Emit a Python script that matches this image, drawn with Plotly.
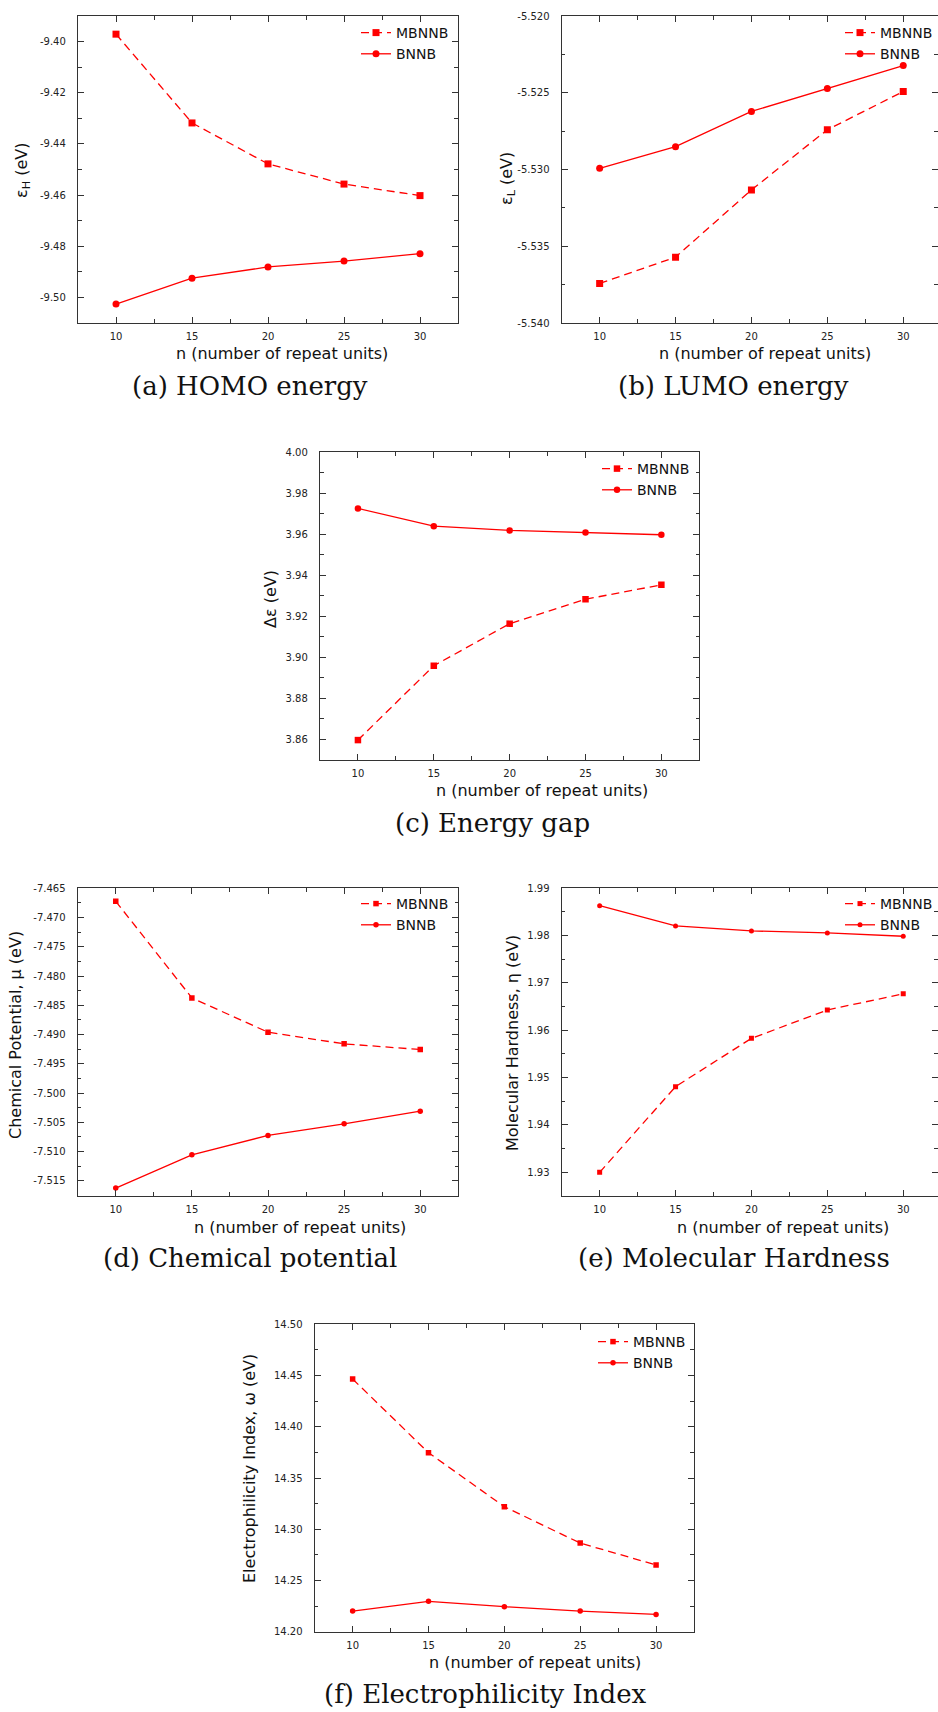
import plotly.graph_objects as go

W, H = 938, 1712

n_units = [10, 15, 20, 25, 30]

homo_mbnnb = [-9.3971, -9.4318, -9.4478, -9.4557, -9.4602]
homo_bnnb = [-9.5026, -9.4925, -9.4881, -9.4858, -9.4829]

lumo_mbnnb = [-5.53742, -5.53571, -5.53133, -5.52741, -5.52492]
lumo_bnnb = [-5.52992, -5.52851, -5.52622, -5.52472, -5.52323]

gap_mbnnb = [3.8597, 3.8959, 3.9164, 3.9283, 3.9353]
gap_bnnb = [3.9725, 3.9639, 3.9618, 3.9608, 3.9597]

mu_mbnnb = [-7.46722, -7.48374, -7.48960, -7.49159, -7.49256]
mu_bnnb = [-7.51625, -7.51056, -7.50725, -7.50526, -7.50310]

eta_mbnnb = [1.9300, 1.9481, 1.9583, 1.9643, 1.9677]
eta_bnnb = [1.98634, 1.98205, 1.9810, 1.98057, 1.97987]

omega_mbnnb = [14.4466, 14.3747, 14.3220, 14.2865, 14.2651]
omega_bnnb = [14.2201, 14.2296, 14.2244, 14.2201, 14.2169]

x_ticks = [10, 15, 20, 25, 30]
homo_ticks = [-9.50, -9.48, -9.46, -9.44, -9.42, -9.40]
lumo_ticks = [-5.540, -5.535, -5.530, -5.525, -5.520]
gap_ticks = [3.86, 3.88, 3.90, 3.92, 3.94, 3.96, 3.98, 4.00]
mu_ticks = [-7.515, -7.510, -7.505, -7.500, -7.495, -7.490, -7.485, -7.480, -7.475, -7.470, -7.465]
eta_ticks = [1.93, 1.94, 1.95, 1.96, 1.97, 1.98, 1.99]
omega_ticks = [14.20, 14.25, 14.30, 14.35, 14.40, 14.45, 14.50]

series_names = ["MBNNB", "BNNB"]

panels = [
    dict(mb=homo_mbnnb, bn=homo_bnnb, ticks=homo_ticks, dec=2,
         yr=[-9.51, -9.39], minor=0.01, xr=[7.5, 32.5],
         ytitle="ε<sub>H</sub> (eV)", caption="(a) HOMO energy"),
    dict(mb=lumo_mbnnb, bn=lumo_bnnb, ticks=lumo_ticks, dec=3,
         yr=[-5.540, -5.520], minor=0.0025, xr=[7.5, 32.29],
         ytitle="ε<sub>L</sub> (eV)", caption="(b) LUMO energy"),
    dict(mb=gap_mbnnb, bn=gap_bnnb, ticks=gap_ticks, dec=2,
         yr=[3.85, 4.00], minor=0.01, xr=[7.5, 32.5],
         ytitle="Δε (eV)", caption="(c) Energy gap"),
    dict(mb=mu_mbnnb, bn=mu_bnnb, ticks=mu_ticks, dec=3,
         yr=[-7.5176, -7.465], minor=0.0025, xr=[7.5, 32.5],
         ytitle="Chemical Potential, μ (eV)", caption="(d) Chemical potential"),
    dict(mb=eta_mbnnb, bn=eta_bnnb, ticks=eta_ticks, dec=2,
         yr=[1.925, 1.99], minor=0.005, xr=[7.5, 32.29],
         ytitle="Molecular Hardness, η (eV)", caption="(e) Molecular Hardness"),
    dict(mb=omega_mbnnb, bn=omega_bnnb, ticks=omega_ticks, dec=2,
         yr=[14.20, 14.50], minor=0.025, xr=[7.5, 32.5],
         ytitle="Electrophilicity Index, ω (eV)", caption="(f) Electrophilicity Index"),
]

# layout (pixel) positions
boxes = [  # x0, x1, y0(top), y1(bottom)
    (78, 458, 16, 323),
    (561.7, 938, 16, 323),
    (320, 699.3, 452, 760),
    (77.7, 458.3, 888.3, 1196),
    (561.7, 938, 888.3, 1196),
    (314.7, 694, 1324.3, 1631.7),
]
xtitle_pos = [(282, 353), (765, 353), (542, 790), (300, 1227), (783, 1227), (535, 1662)]
ytitle_pos = [(22, 171), (507, 179), (270, 599), (15, 1035), (512, 1043), (249, 1468)]
caption_pos = [(250, 386), (733, 386), (492, 823), (250, 1258), (734, 1258), (486, 1694)]
# (x, y, anchor) ; right-anchored legends sit against the page edge
legend_pos = [(356, 17, "left"), (938, 17, "right"), (597, 453, "left"),
              (356, 888, "left"), (938, 888, "right"), (593, 1326, "left")]
marker_sizes = [(7, 7), (7, 7), (6.5, 6.5), (5.5, 5.5), (5, 5), (5.5, 5.5)]

RED = "#ff0000"
AX = "#333333"
SANS = "DejaVu Sans, Verdana, sans-serif"
SERIF = "DejaVu Serif, Liberation Serif, serif"

def px(x):
    return x / W

def py(y):
    return 1 - y / H

fig = go.Figure()
layout = dict(width=W, height=H, margin=dict(l=0, r=0, t=0, b=0, autoexpand=False),
              paper_bgcolor="white", plot_bgcolor="white", showlegend=True)
annotations = []

for i, p in enumerate(panels):
    k = "" if i == 0 else str(i + 1)
    xa, ya = "x" + k, "y" + k
    leg = "legend" + k
    ms_sq, ms_ci = marker_sizes[i]
    fig.add_trace(go.Scatter(
        x=n_units, y=p["mb"], name=series_names[0], mode="lines+markers",
        line=dict(color=RED, width=1.3, dash="8px,5px"),
        marker=dict(symbol="square", size=ms_sq, color=RED),
        xaxis=xa, yaxis=ya, legend=leg))
    fig.add_trace(go.Scatter(
        x=n_units, y=p["bn"], name=series_names[1], mode="lines+markers",
        line=dict(color=RED, width=1.3),
        marker=dict(symbol="circle", size=ms_ci, color=RED),
        xaxis=xa, yaxis=ya, legend=leg))

    x0, x1, y0, y1 = boxes[i]
    common = dict(showline=True, linecolor=AX, linewidth=1.3, mirror="allticks",
                  ticks="inside", ticklen=6, tickwidth=1.2, tickcolor=AX,
                  showgrid=False, zeroline=False,
                  tickfont=dict(family=SANS, size=10, color="#222"))
    layout["xaxis" + k] = dict(
        common, domain=[px(x0), min(1.0, px(x1))], range=p["xr"], anchor=ya,
        tickmode="array", tickvals=x_ticks, ticktext=[str(v) for v in x_ticks],
        ticklabelstandoff=4,
        minor=dict(ticks="inside", ticklen=3.5, tickwidth=1.1, tickcolor=AX,
                   tickmode="linear", tick0=10, dtick=2.5, showgrid=False))
    fmt = "{:.%df}" % p["dec"]
    layout["yaxis" + k] = dict(
        common, domain=[py(y1), py(y0)], range=p["yr"], anchor=xa,
        tickmode="array", tickvals=p["ticks"],
        ticktext=[fmt.format(v) for v in p["ticks"]],
        ticklabelstandoff=9,
        minor=dict(ticks="inside", ticklen=3.5, tickwidth=1.1, tickcolor=AX,
                   tickmode="linear", tick0=p["ticks"][0], dtick=p["minor"],
                   showgrid=False))
    lx, ly, anc = legend_pos[i]
    layout[leg] = dict(x=px(lx), y=py(ly), xanchor=anc, yanchor="top",
                       bgcolor="rgba(0,0,0,0)", borderwidth=0,
                       font=dict(family=SANS, size=14, color="#111"),
                       tracegroupgap=0, itemwidth=30)

    tx, ty = xtitle_pos[i]
    annotations.append(dict(x=px(tx), y=py(ty), xref="paper", yref="paper",
                            text="n (number of repeat units)", showarrow=False,
                            xanchor="center", yanchor="middle",
                            font=dict(family=SANS, size=16, color="#111")))
    tx, ty = ytitle_pos[i]
    annotations.append(dict(x=px(tx), y=py(ty), xref="paper", yref="paper",
                            text=p["ytitle"], showarrow=False, textangle=-90,
                            xanchor="center", yanchor="middle",
                            font=dict(family=SANS, size=16, color="#111")))
    tx, ty = caption_pos[i]
    annotations.append(dict(x=px(tx), y=py(ty), xref="paper", yref="paper",
                            text=p["caption"], showarrow=False,
                            xanchor="center", yanchor="middle",
                            font=dict(family=SERIF, size=26, color="#111")))

layout["annotations"] = annotations
fig.update_layout(**layout)
fig.write_html("out.html")
